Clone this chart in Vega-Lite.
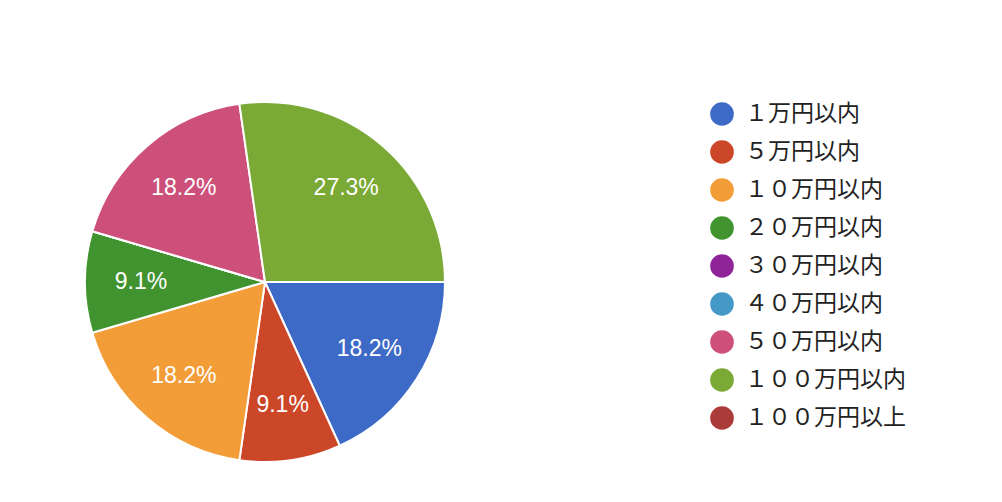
{
  "$schema": "https://vega.github.io/schema/vega-lite/v6.json",
  "width": 360,
  "height": 360,
  "padding": {"left": 81, "top": 98, "right": 90, "bottom": 44},
  "background": "#ffffff",
  "config": {"view": {"stroke": null}},
  "data": {
    "values": [
      {"range": "１万円以内", "count": 2, "order": 1},
      {"range": "５万円以内", "count": 1, "order": 2},
      {"range": "１０万円以内", "count": 2, "order": 3},
      {"range": "２０万円以内", "count": 1, "order": 4},
      {"range": "３０万円以内", "count": 0, "order": 5},
      {"range": "４０万円以内", "count": 0, "order": 6},
      {"range": "５０万円以内", "count": 2, "order": 7},
      {"range": "１００万円以内", "count": 3, "order": 8},
      {"range": "１００万円以上", "count": 0, "order": 9}
    ]
  },
  "transform": [
    {"joinaggregate": [{"op": "sum", "field": "count", "as": "total"}]},
    {"calculate": "datum.count / datum.total", "as": "share"}
  ],
  "encoding": {
    "theta": {
      "field": "count",
      "type": "quantitative",
      "stack": true,
      "scale": {"range": [1.5707963, 7.8539816]}
    },
    "order": {"field": "order", "type": "quantitative"}
  },
  "layer": [
    {
      "mark": {"type": "arc", "stroke": "#ffffff", "strokeWidth": 2},
      "encoding": {
        "color": {
          "field": "range",
          "type": "nominal",
          "sort": null,
          "scale": {
            "domain": ["１万円以内", "５万円以内", "１０万円以内", "２０万円以内", "３０万円以内", "４０万円以内", "５０万円以内", "１００万円以内", "１００万円以上"],
            "range": ["#3d69c7", "#cc4628", "#f39d38", "#419330", "#8e2497", "#4499c6", "#cc5079", "#7aa935", "#ab3b39"]
          },
          "legend": {
            "title": null,
            "orient": "right",
            "offset": 265,
            "padding": 0,
            "symbolType": "circle",
            "symbolSize": 560,
            "symbolStrokeWidth": 0,
            "symbolOpacity": 1,
            "rowPadding": 14,
            "labelFont": "Noto Sans CJK JP",
            "labelFontSize": 23,
            "labelColor": "#222222",
            "labelOffset": 11,
            "labelLimit": 400
          }
        }
      }
    },
    {
      "transform": [{"filter": "datum.count > 0"}],
      "mark": {
        "type": "text",
        "radius": 124,
        "fill": "#ffffff",
        "font": "Liberation Sans",
        "fontSize": 23,
        "align": "center",
        "baseline": "middle"
      },
      "encoding": {
        "text": {"field": "share", "type": "quantitative", "format": ".1%"}
      }
    }
  ]
}
